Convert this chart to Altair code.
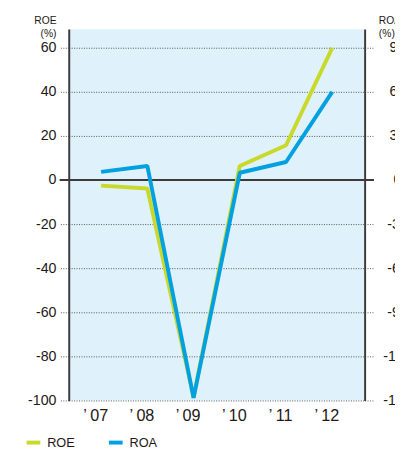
import altair as alt
import pandas as pd

years = ["’07", "’08", "’09", "’10", "’11", "’12"]
roe = [-2.5, -3.8, -98.5, 6.4, 15.8, 60.0]
roa = [5.6, 9.6, -148.3, 5.0, 12.3, 60.0]
roe_ticks = [-100, -80, -60, -40, -20, 0, 20, 40, 60]
roa_ticks = [-150, -120, -90, -60, -30, 0, 30, 60, 90]

df = pd.DataFrame({"year": years, "ROE": roe, "ROA": roa})

FONT = "Liberation Sans"
TXT = "#231815"
DARK = "#3e3a39"
GRID = "#555555"
C_ROE = "#c9d92b"
C_ROA = "#00a0e1"

x_enc = alt.X("year:O", sort=years, scale=alt.Scale(type="point", padding=0.7),
              axis=alt.Axis(title=None, domain=False, ticks=False, grid=False,
                            labelAngle=0, labelPadding=7, labelFontSize=16.5,
                            labelOffset=-6,
                            labelExpr="replace(datum.label, '’', '’\u2009')",
                            labelFont=FONT, labelColor=TXT))

color_scale = alt.Scale(domain=["ROE", "ROA"], range=[C_ROE, C_ROA])
legend = alt.Legend(orient="none", legendX=-45, legendY=413, direction="horizontal",
                    title=None, symbolType="stroke", symbolStrokeWidth=4,
                    symbolSize=196, labelFontSize=13, labelFont=FONT, labelColor=TXT,
                    columnPadding=26, labelOffset=5)

base = alt.Chart(df)

zero = base.mark_rule(color=DARK, strokeWidth=2).encode(
    y=alt.datum(0, type="quantitative", scale=alt.Scale(domain=[-100, 68.5], nice=False, zero=False)),
    x=alt.value(-9), x2=alt.value(311)
)

left_axis = alt.Axis(values=roe_ticks, grid=True, gridDash=[1, 1.5], gridColor=GRID,
                     gridWidth=1, gridOpacity=1, tickDash=[1, 1.5], tickColor=GRID,
                     tickSize=9, domainColor=DARK, domainWidth=2, labelPadding=4,
                     labelFontSize=14.5, labelFont=FONT, labelColor=TXT,
                     labelExpr="'' + datum.value",
                     title=["ROE", "(%)"], titleAngle=0, titleAlign="right",
                     titleX=-13, titleY=-6, titleBaseline="alphabetic",
                     titleFontSize=10.5, titleFontWeight="normal", titleFont=FONT,
                     titleColor=TXT, titleLineHeight=14, orient="left")

right_axis = alt.Axis(values=roa_ticks, grid=False, tickDash=[1, 1.5], tickColor=GRID,
                      tickSize=10, domainColor=DARK, domainWidth=2, labelPadding=23,
                      labelAlign="center",
                      labelFontSize=14.5, labelFont=FONT, labelColor=TXT,
                      labelExpr="'' + datum.value",
                      title=["ROA", "(%)"], titleAngle=0, titleAlign="left",
                      titleX=14, titleY=-6, titleBaseline="alphabetic",
                      titleFontSize=10.5, titleFontWeight="normal", titleFont=FONT,
                      titleColor=TXT, titleLineHeight=14, orient="right")

roe_line = base.transform_calculate(series="'ROE'").mark_line(
    strokeWidth=4, strokeJoin="bevel").encode(
    x=x_enc,
    y=alt.Y("ROE:Q", scale=alt.Scale(domain=[-100, 68.5], nice=False, zero=False), axis=left_axis),
    color=alt.Color("series:N", scale=color_scale, legend=legend),
)

roa_line = base.transform_calculate(series="'ROA'").mark_line(
    strokeWidth=4, strokeJoin="bevel").encode(
    x=x_enc,
    y=alt.Y("ROA:Q", scale=alt.Scale(domain=[-150, 102.75], nice=False, zero=False), axis=right_axis),
    color=alt.Color("series:N", scale=color_scale, legend=legend),
)

left = alt.layer(zero, roe_line)
chart = alt.layer(left, roa_line).resolve_scale(y="independent").properties(
    width=302, height=379,
    autosize=alt.AutoSizeParams(type="none"),
    padding={"left": 62, "top": 17, "right": 31, "bottom": 46},
).configure_view(fill="#dff1fb", stroke=None)

chart.save("out.html", embed_options={"renderer": "svg", "actions": False})
